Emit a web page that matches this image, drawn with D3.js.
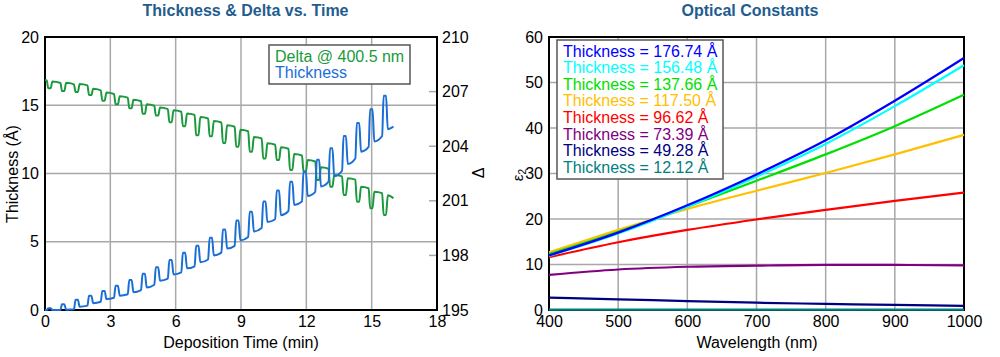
<!DOCTYPE html>
<html><head><meta charset="utf-8">
<script src="https://cdn.jsdelivr.net/npm/d3@7"></script>
<style>
body{margin:0;background:#fff}
svg{display:block}
text{font-family:"Liberation Sans",Arial,Helvetica,sans-serif}
</style>
</head><body>
<svg id="chart" width="1000" height="357"></svg>
<script>
// ---------- Left chart data: Thickness (Å) and Delta (deg) vs time (min) ----------
const sampleTime = [
 0.00,
 0.08,0.15,0.26,0.34,  0.71,0.78,0.89,0.97,  1.33,1.40,1.51,1.59,  1.95,2.02,2.13,2.21,
 2.56,2.63,2.74,2.82,  3.17,3.24,3.35,3.43,  3.80,3.87,3.98,4.06,  4.41,4.48,4.59,4.67,
 5.02,5.09,5.20,5.28,  5.64,5.71,5.82,5.90,  6.26,6.33,6.44,6.52,  6.87,6.94,7.05,7.13,
 7.49,7.56,7.67,7.75,  8.10,8.17,8.28,8.36,  8.71,8.78,8.89,8.97,  9.33,9.40,9.51,9.59,
 9.95,10.02,10.13,10.21,  10.57,10.64,10.75,10.83,  11.18,11.25,11.36,11.44,  11.80,11.87,11.98,12.06,
 12.41,12.48,12.59,12.67,  13.02,13.09,13.20,13.28,  13.64,13.71,13.82,13.90,  14.25,14.32,14.43,14.51,
 14.86,14.93,15.04,15.12,  15.48,15.55,15.66,15.74,
 16.00
];
const thickness = [
 0.00,
 0.00,0.12,0.12,0.00,  0.00,0.42,0.42,0.02,  0.05,0.75,0.75,0.24,  0.32,1.05,1.05,0.50,
 0.60,1.40,1.40,0.80,  0.90,1.78,1.78,1.05,  1.15,2.20,2.20,1.30,  1.45,2.65,2.65,1.65,
 1.85,3.13,3.13,2.15,  2.30,3.66,3.66,2.60,  2.75,4.20,4.20,3.05,  3.20,4.70,4.70,3.50,
 3.70,5.30,5.30,4.00,  4.20,5.90,5.90,4.50,  4.70,6.55,6.55,5.10,  5.35,7.20,7.20,5.75,
 6.00,7.95,7.95,6.45,  6.65,8.75,8.75,6.95,  7.25,9.40,9.40,7.70,  7.95,10.15,10.15,8.35,
 8.65,11.00,11.00,9.05,  9.40,11.85,11.85,9.80,  10.20,12.75,12.75,10.70,  11.10,13.70,13.70,11.60,
 11.95,14.70,14.70,12.35,  12.75,15.70,15.70,13.25,
 13.43
];
const delta = [
 207.64,
 207.62,207.18,207.18,207.55,  207.47,207.03,207.03,207.48,  207.40,206.98,206.98,207.42,  207.34,206.81,206.81,207.15,
 207.07,206.50,206.50,206.95,  206.87,206.30,206.30,206.75,  206.67,206.08,206.08,206.55,  206.47,205.78,205.78,206.30,
 206.22,205.68,205.68,206.12,  206.04,205.32,205.32,205.97,  205.89,205.10,205.10,205.80,  205.72,204.60,204.60,205.60,
 205.52,204.54,204.54,205.38,  205.30,204.18,204.18,205.15,  205.07,203.97,203.97,204.90,  204.82,203.70,203.70,204.50,
 204.42,203.33,203.33,204.16,  204.08,203.24,203.24,203.94,  203.86,202.69,202.69,203.57,  203.49,202.60,202.60,203.24,
 203.16,202.14,202.14,202.84,  202.76,201.77,201.77,202.42,  202.34,201.32,201.32,202.24,  202.16,200.95,200.95,201.77,
 201.69,200.59,200.59,201.50,  201.42,200.22,200.22,201.30,
 201.14
];
const timeTicks = [0, 3, 6, 9, 12, 15, 18];
const thickTicks = [0, 5, 10, 15, 20];
const deltaTicks = [195, 198, 201, 204, 207, 210];
const leftLegend = ["Delta @ 400.5 nm", "Thickness"];

// ---------- Right chart data: eps2 vs wavelength ----------
const wavelength = [400, 500, 600, 700, 800, 900, 1000];
const filmThickness = ["176.74", "156.48", "137.66", "117.50", "96.62", "73.39", "49.28", "12.12"];
const eps2_176_74 = [12.0, 17.0, 23.0, 29.8, 37.3, 46.0, 55.4];
const eps2_156_48 = [11.9, 16.8, 22.7, 29.3, 36.5, 44.8, 53.8];
const eps2_137_66 = [12.3, 17.2, 22.7, 28.4, 34.2, 40.4, 47.3];
const eps2_117_50 = [12.7, 17.6, 22.2, 26.2, 30.1, 34.2, 38.5];
const eps2_96_62  = [11.6, 14.9, 17.6, 19.9, 22.0, 24.0, 25.8];
const eps2_73_39  = [7.7, 8.9, 9.5, 9.75, 9.9, 9.9, 9.8];
const eps2_49_28  = [2.7, 2.35, 1.95, 1.6, 1.35, 1.12, 0.9];
const eps2_12_12  = [0.1, 0.1, 0.1, 0.1, 0.1, 0.1, 0.1];
const wlTicks = [400, 500, 600, 700, 800, 900, 1000];
const epsTicks = [0, 10, 20, 30, 40, 50, 60];

// ---------- styles ----------
const titleColor = "#1f5d8f";
const gridColor = "#a8a8a8";
const deltaColor = "#1a9a3c";
const thickColor = "#1a6fd6";
const filmColors = ["#0000ff", "#00ffff", "#00e000", "#ffc000", "#ff0000", "#800080", "#000080", "#008080"];
const eps2Series = [eps2_176_74, eps2_156_48, eps2_137_66, eps2_117_50, eps2_96_62, eps2_73_39, eps2_49_28, eps2_12_12];

const svg = d3.select("#chart");
const FS = 16;

function styleAxis(g){
  g.select(".domain").remove();
  g.selectAll("text").attr("font-size", FS).attr("fill", "#000")
   .attr("font-family", '"Liberation Sans",Arial,sans-serif');
}

// ================= LEFT CHART =================
{
  const x0 = 45, x1 = 437, y0 = 37, y1 = 310;
  const x = d3.scaleLinear().domain([0, 18]).range([x0, x1]);
  const yT = d3.scaleLinear().domain([0, 20]).range([y1, y0]);
  const yD = d3.scaleLinear().domain([195, 210]).range([y1, y0]);
  const g = svg.append("g");

  // grid
  g.append("g").selectAll("line").data(timeTicks.filter(t => t > 0 && t < 18)).join("line")
    .attr("x1", d => x(d)).attr("x2", d => x(d)).attr("y1", y0).attr("y2", y1)
    .attr("stroke", gridColor).attr("stroke-width", 1.5);
  g.append("g").selectAll("line").data(thickTicks.filter(t => t > 0 && t < 20)).join("line")
    .attr("y1", d => yT(d)).attr("y2", d => yT(d)).attr("x1", x0).attr("x2", x1)
    .attr("stroke", gridColor).attr("stroke-width", 1.5);
  // right inner ticks
  g.append("g").selectAll("line").data(deltaTicks.filter(t => t > 195 && t < 210)).join("line")
    .attr("y1", d => yD(d)).attr("y2", d => yD(d)).attr("x1", x1 - 8).attr("x2", x1)
    .attr("stroke", gridColor).attr("stroke-width", 1.5);

  // axes labels
  g.append("g").attr("transform", `translate(0,${y1})`)
    .call(d3.axisBottom(x).tickValues(timeTicks).tickSize(0).tickPadding(6)).call(styleAxis);
  g.append("g").attr("transform", `translate(${x0},0)`)
    .call(d3.axisLeft(yT).tickValues(thickTicks).tickSize(0).tickPadding(6)).call(styleAxis);
  g.append("g").attr("transform", `translate(${x1},0)`)
    .call(d3.axisRight(yD).tickValues(deltaTicks).tickSize(0).tickPadding(5)).call(styleAxis);

  // frame
  g.append("rect").attr("x", x0).attr("y", y0).attr("width", x1 - x0).attr("height", y1 - y0)
    .attr("fill", "none").attr("stroke", "#000").attr("stroke-width", 2);

  // data
  const idx = d3.range(sampleTime.length);
  g.append("path").datum(idx)
    .attr("d", d3.line().x(i => x(sampleTime[i])).y(i => yD(delta[i])).curve(d3.curveMonotoneX))
    .attr("fill", "none").attr("stroke", deltaColor).attr("stroke-width", 2);
  g.append("path").datum(idx)
    .attr("d", d3.line().x(i => x(sampleTime[i])).y(i => yT(thickness[i])).curve(d3.curveMonotoneX))
    .attr("fill", "none").attr("stroke", thickColor).attr("stroke-width", 2);

  // titles
  g.append("text").attr("x", 245.5).attr("y", 16).attr("text-anchor", "middle")
    .attr("font-size", FS).attr("font-weight", "bold").attr("fill", titleColor)
    .text("Thickness & Delta vs. Time");
  g.append("text").attr("x", 241).attr("y", 348).attr("text-anchor", "middle")
    .attr("font-size", FS).text("Deposition Time (min)");
  g.append("text").attr("transform", "translate(12,174) rotate(-90)").attr("dy", "0.35em")
    .attr("text-anchor", "middle").attr("font-size", FS).text("Thickness (Å)");
  g.append("text").attr("transform", "translate(478,173) rotate(-90)").attr("dy", "0.35em")
    .attr("text-anchor", "middle").attr("font-size", FS).text("Δ");

  // legend
  const lg = g.append("g");
  lg.append("rect").attr("x", 269).attr("y", 45).attr("width", 141).attr("height", 39)
    .attr("fill", "#fff").attr("stroke", "#555").attr("stroke-width", 1.5);
  lg.selectAll("text").data(leftLegend).join("text")
    .attr("x", 275).attr("y", (d, i) => 62 + i * 16)
    .attr("font-size", FS).attr("fill", (d, i) => i === 0 ? deltaColor : thickColor).text(d => d);
}

// ================= RIGHT CHART =================
{
  const x0 = 549, x1 = 964, y0 = 37, y1 = 310;
  const x = d3.scaleLinear().domain([400, 1000]).range([x0, x1]);
  const y = d3.scaleLinear().domain([0, 60]).range([y1, y0]);
  const g = svg.append("g");

  g.append("g").selectAll("line").data(wlTicks.filter(t => t > 400 && t < 1000)).join("line")
    .attr("x1", d => x(d)).attr("x2", d => x(d)).attr("y1", y0).attr("y2", y1)
    .attr("stroke", gridColor).attr("stroke-width", 1.5);
  g.append("g").selectAll("line").data(epsTicks.filter(t => t > 0 && t < 60)).join("line")
    .attr("y1", d => y(d)).attr("y2", d => y(d)).attr("x1", x0).attr("x2", x1)
    .attr("stroke", gridColor).attr("stroke-width", 1.5);

  g.append("g").attr("transform", `translate(0,${y1})`)
    .call(d3.axisBottom(x).tickValues(wlTicks).tickFormat(d3.format("d")).tickSize(0).tickPadding(6)).call(styleAxis);
  g.append("g").attr("transform", `translate(${x0},0)`)
    .call(d3.axisLeft(y).tickValues(epsTicks).tickSize(0).tickPadding(6)).call(styleAxis);

  g.append("rect").attr("x", x0).attr("y", y0).attr("width", x1 - x0).attr("height", y1 - y0)
    .attr("fill", "none").attr("stroke", "#000").attr("stroke-width", 2);

  const line = d3.line().x((d, i) => x(wavelength[i])).y(d => y(d)).curve(d3.curveMonotoneX);
  const order = d3.range(eps2Series.length).reverse();
  g.append("g").selectAll("path").data(order).join("path")
    .attr("d", k => line(eps2Series[k]))
    .attr("fill", "none").attr("stroke", k => filmColors[k]).attr("stroke-width", 2.2);

  g.append("text").attr("x", 750).attr("y", 16).attr("text-anchor", "middle")
    .attr("font-size", FS).attr("font-weight", "bold").attr("fill", titleColor)
    .text("Optical Constants");
  g.append("text").attr("x", 757).attr("y", 348).attr("text-anchor", "middle")
    .attr("font-size", FS).text("Wavelength (nm)");
  const yl = g.append("text").attr("transform", "translate(518,175) rotate(-90)").attr("dy", "0.35em")
    .attr("text-anchor", "middle").attr("font-size", 15);
  yl.append("tspan").text("ε");
  yl.append("tspan").attr("font-size", 10).attr("dy", "0.25em").text("2");

  const lg = g.append("g");
  lg.append("rect").attr("x", 557).attr("y", 40).attr("width", 166).attr("height", 139)
    .attr("fill", "#fff").attr("stroke", "#555").attr("stroke-width", 1.5);
  lg.selectAll("text").data(filmThickness).join("text")
    .attr("x", 563).attr("y", (d, i) => 56.5 + i * 16.66)
    .attr("font-size", FS).attr("fill", (d, i) => filmColors[i])
    .text(d => `Thickness = ${d} Å`);
}
</script>
</body></html>
